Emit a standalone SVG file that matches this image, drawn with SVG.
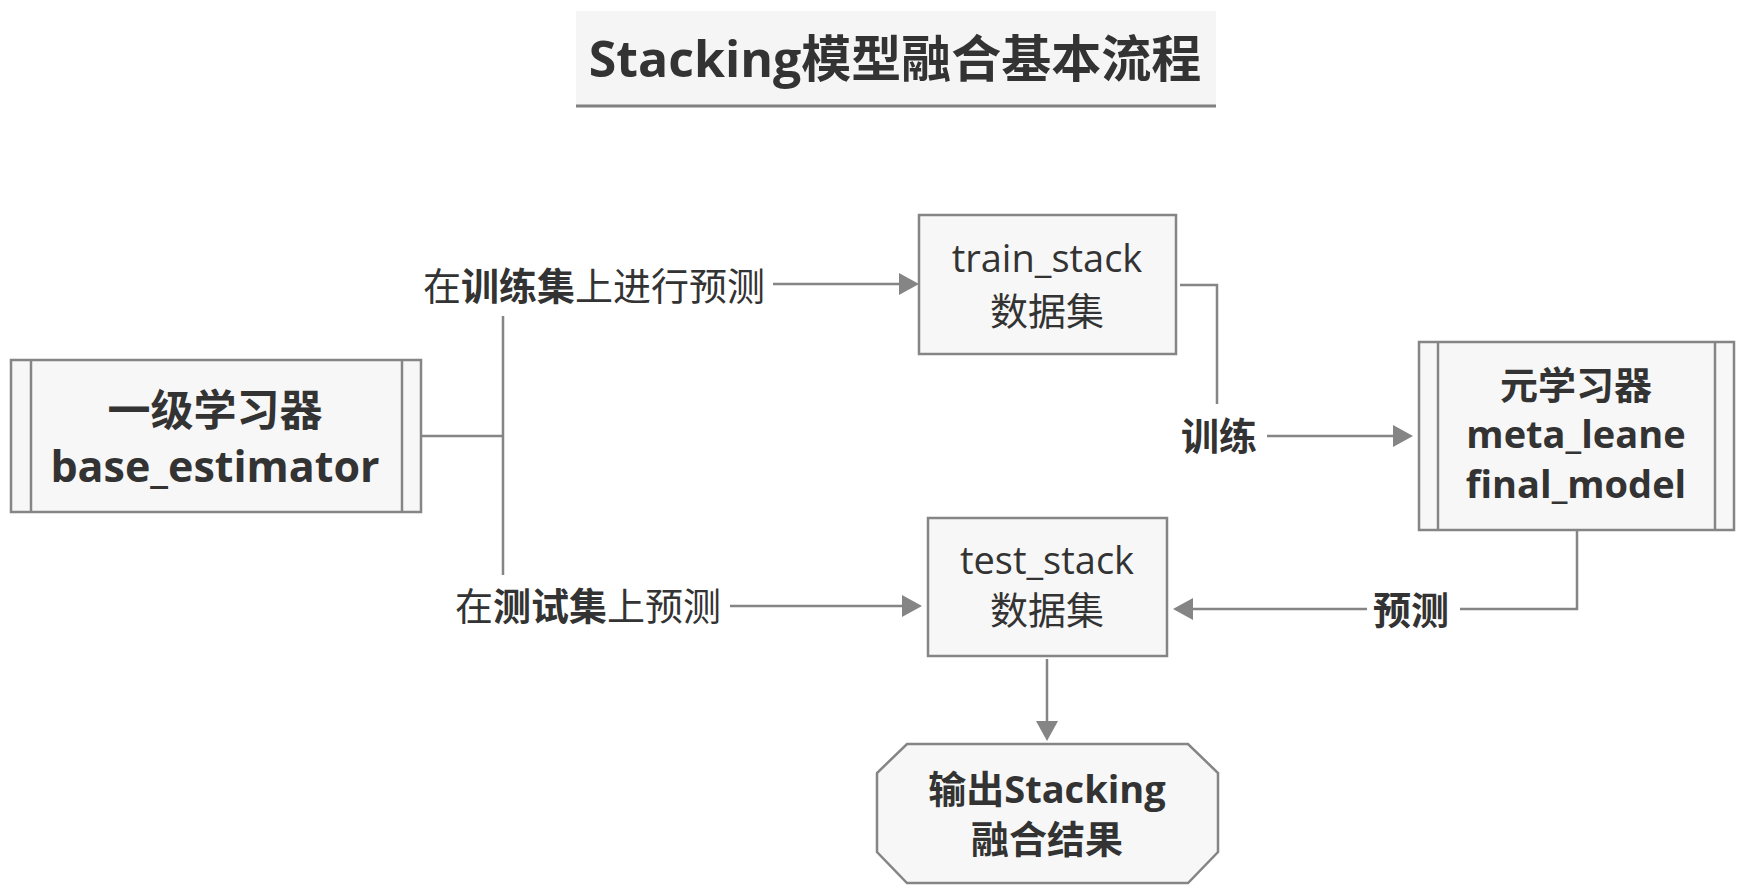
<svg xmlns="http://www.w3.org/2000/svg" width="1749" height="894" viewBox="0 0 1749 894">
<style>
text{font-family:"Open Sans","Noto Sans CJK SC",sans-serif;fill:#333333;text-anchor:middle}
.b{font-weight:bold}
.r{font-weight:normal}
.box{fill:#f7f7f7;stroke:#858585;stroke-width:2.5}
.in{stroke:#858585;stroke-width:2.5;fill:none}
.con{stroke:#858585;stroke-width:2.5;fill:none}
</style>
<defs>
<marker id="arr" viewBox="0 0 20 22" refX="12" refY="11" markerWidth="20" markerHeight="22" markerUnits="userSpaceOnUse" orient="auto">
<path d="M0,0 L20,11 L0,22 z" fill="#858585"/>
</marker>
</defs>
<g id="title">
<rect x="576" y="11" width="640" height="95" fill="#f5f5f5"/>
<line x1="576" y1="106" x2="1216" y2="106" stroke="#808080" stroke-width="3"/>
<text x="895" y="77" class="b" font-size="50">Stacking模型融合基本流程</text>
</g>
<g id="connectors">
<polyline class="con" points="421,436 503,436"/>
<line class="con" x1="503" y1="316" x2="503" y2="575"/>
<line class="con" x1="773" y1="284" x2="911" y2="284" marker-end="url(#arr)"/>
<line class="con" x1="730" y1="606" x2="914" y2="606" marker-end="url(#arr)"/>
<polyline class="con" points="1180,285 1217,285 1217,404"/>
<line class="con" x1="1267" y1="436" x2="1405" y2="436" marker-end="url(#arr)"/>
<polyline class="con" points="1577,530 1577,609 1460,609"/>
<line class="con" x1="1367" y1="609" x2="1181" y2="609" marker-end="url(#arr)"/>
<line class="con" x1="1047" y1="659" x2="1047" y2="733" marker-end="url(#arr)"/>
<text x="423" y="300" font-size="38" style="text-anchor:start"><tspan class="r">在</tspan><tspan class="b">训练集</tspan><tspan class="r">上进行预测</tspan></text>
<text x="455" y="620" font-size="38" style="text-anchor:start"><tspan class="r">在</tspan><tspan class="b">测试集</tspan><tspan class="r">上预测</tspan></text>
<text x="1219" y="450" font-size="38" class="b">训练</text>
<text x="1411" y="624" font-size="38" class="b">预测</text>
</g>
<g id="base_estimator">
<rect class="box" x="11" y="360" width="410" height="152"/>
<line class="in" x1="31" y1="360" x2="31" y2="512"/>
<line class="in" x1="402" y1="360" x2="402" y2="512"/>
<text x="215" y="426" font-size="43" class="b">一级学习器</text>
<text x="215" y="482" font-size="43" class="b">base_estimator</text>
</g>
<g id="train_stack">
<rect class="box" x="919" y="215" width="257" height="139"/>
<text x="1047" y="272" font-size="38">train_stack</text>
<text x="1047" y="325" font-size="38">数据集</text>
</g>
<g id="meta_learner">
<rect class="box" x="1419" y="342" width="315" height="188"/>
<line class="in" x1="1438" y1="342" x2="1438" y2="530"/>
<line class="in" x1="1715" y1="342" x2="1715" y2="530"/>
<text x="1576" y="399" font-size="38" class="b">元学习器</text>
<text x="1576" y="448" font-size="38" class="b">meta_leane</text>
<text x="1576" y="498" font-size="38" class="b">final_model</text>
</g>
<g id="test_stack">
<rect class="box" x="928" y="518" width="239" height="138"/>
<text x="1047" y="574" font-size="38">test_stack</text>
<text x="1047" y="624" font-size="38">数据集</text>
</g>
<g id="output">
<polygon class="box" points="907,744 1188,744 1218,773 1218,852 1188,883 907,883 877,852 877,773"/>
<text x="1047" y="803" font-size="38" class="b">输出Stacking</text>
<text x="1047" y="853" font-size="38" class="b">融合结果</text>
</g>
</svg>
